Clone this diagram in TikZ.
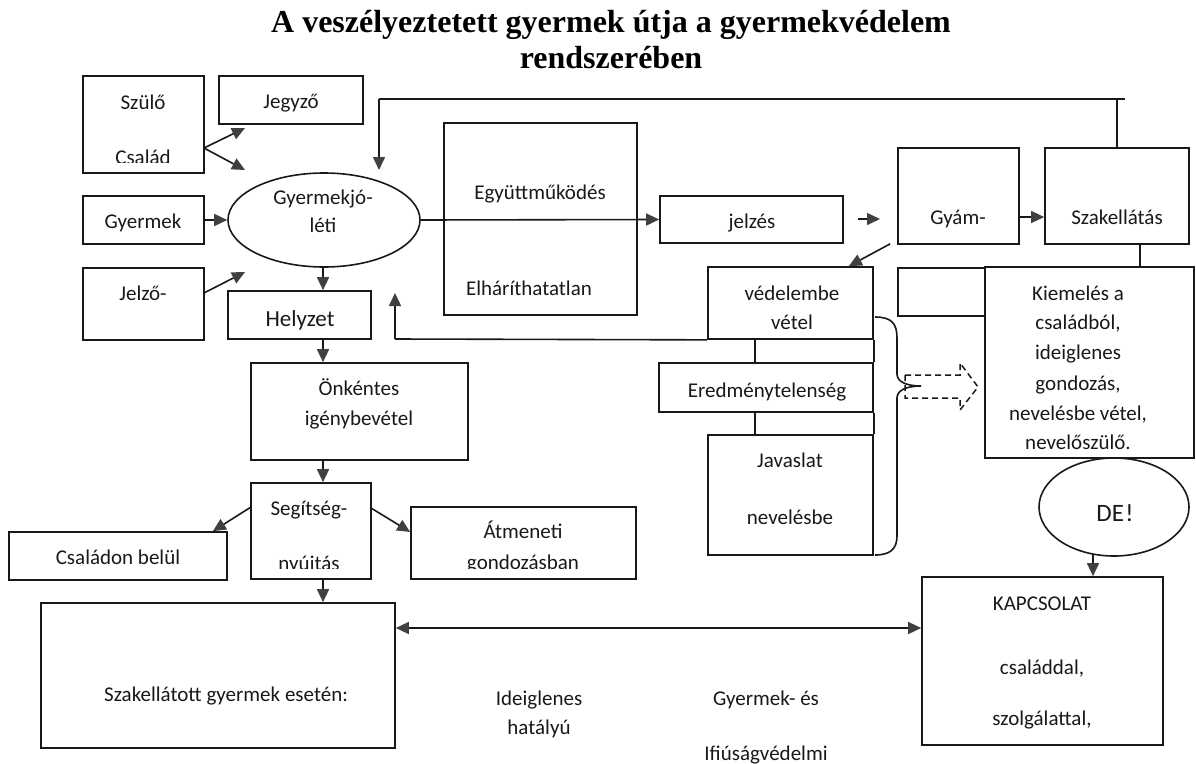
\documentclass[tikz,border=0pt]{standalone}
\usepackage{fontspec}
\setmainfont{Carlito}
\newfontfamily\titlefont{Liberation Serif}
\usetikzlibrary{arrows.meta,shapes.geometric,calc}
\begin{document}
\begin{tikzpicture}[x=1pt,y=-1pt,
  bx/.style={draw=black!90, line width=1.7pt, inner sep=0pt},
  ov/.style={draw=black!90, line width=1.6pt, ellipse, inner sep=0pt},
  tx/.style={font=\fontsize{21}{25}\selectfont, text=black!90, anchor=base, inner sep=0pt},
  ttl/.style={font=\titlefont\bfseries\fontsize{32}{36}\selectfont, anchor=base, inner sep=0pt},
  ar/.style={draw=black!90, line width=1.6pt, -{Triangle[length=13pt,width=12pt,fill=black!75,color=black!75]}},
  dar/.style={draw=black!90, line width=1.6pt, {Triangle[length=13pt,width=12pt,fill=black!75,color=black!75]}-{Triangle[length=13pt,width=12pt,fill=black!75,color=black!75]}},
  ln/.style={draw=black!90, line width=1.6pt},
]
\useasboundingbox (0,0) rectangle (1196,763);
\fill[white] (0,0) rectangle (1196,763);

% title
\node[ttl] (t1) at (611,32) {A veszélyeztetett gyermek útja a gyermekvédelem};
\node[ttl] (t2) at (611,68) {rendszerében};

% boxes
\node[bx, minimum width=121pt, minimum height=97pt] (szulo) at (143.5,124.5) {};
\node[bx, minimum width=144pt, minimum height=48pt] (jegyzo) at (291,100) {};
\node[bx, minimum width=121pt, minimum height=48pt] (gyermek) at (143.5,220) {};
\node[bx, minimum width=121pt, minimum height=72pt] (jelzo) at (143.5,304) {};
\node[ov, minimum width=192pt, minimum height=94pt] (ell) at (324,220) {};
\node[bx, minimum width=143pt, minimum height=48pt] (helyzet) at (299.5,315) {};
\node[bx, minimum width=193pt, minimum height=192pt] (egyutt) at (540.5,219) {};
\node[bx, minimum width=183pt, minimum height=47pt] (jelzes) at (751.5,219.5) {};
\node[bx, minimum width=121pt, minimum height=96pt] (gyam) at (958.5,196) {};
\node[bx, minimum width=144pt, minimum height=96pt] (szak) at (1117,196) {};
\node[bx, minimum width=165pt, minimum height=72pt] (vedelem) at (790.5,303) {};
\node[bx, minimum width=87pt, minimum height=48pt] (blank) at (941.5,292) {};
\node[bx, minimum width=209pt, minimum height=191pt] (kiemel) at (1089.5,362.5) {};
\node[bx, minimum width=214pt, minimum height=49pt] (eredm) at (766,387.5) {};
\node[bx, minimum width=165pt, minimum height=120pt] (javaslat) at (790.5,495) {};
\node[ov, minimum width=150pt, minimum height=98pt] (de) at (1114,507) {};
\node[bx, minimum width=217pt, minimum height=97pt] (onkent) at (359.5,411.5) {};
\node[bx, minimum width=120pt, minimum height=96pt] (segit) at (311,531) {};
\node[bx, minimum width=218pt, minimum height=48pt] (csalad) at (118,556) {};
\node[bx, minimum width=225pt, minimum height=72pt] (atmen) at (523.5,543) {};
\node[bx, minimum width=354pt, minimum height=145pt] (szakgy) at (218,675.5) {};
\node[bx, minimum width=241pt, minimum height=168pt] (kapcs) at (1042.5,661) {};

% texts
\node[tx] (tszulo) at (143,109) {Szülő};
\begin{scope}
\clip (84,77) rectangle (203,162);
\node[tx] (tcsalad) at (143,164) {Család};
\end{scope}
\node[tx] (tjegyzo) at (291,108) {Jegyző};
\node[tx] (tgyermek) at (143,228) {Gyermek};
\node[tx] (tgy1) at (323,204) {Gyermekjó-};
\node[tx] (tgy2) at (323,232) {léti};
\node[tx] (tjelzo) at (143,300) {Jelző-};
\node[tx, font=\fontsize{23}{27}\selectfont] (thely) at (300,326) {Helyzet};
\node[tx] (tegy) at (540,199) {Együttműködés};
\node[tx] (telh) at (529,295) {Elháríthatatlan};
\node[tx] (tjelzes) at (752,228) {jelzés};
\node[tx] (tgyam) at (958,224) {Gyám-};
\node[tx] (tszak) at (1117,224) {Szakellátás};
\node[tx] (tved1) at (792,300) {védelembe};
\node[tx] (tved2) at (792,329) {vétel};
\node[tx] (tk1) at (1078,300) {Kiemelés a};
\node[tx] (tk2) at (1078,329) {családból,};
\node[tx] (tk3) at (1078,359) {ideiglenes};
\node[tx] (tk4) at (1078,390) {gondozás,};
\node[tx] (tk5) at (1078,420) {nevelésbe vétel,};
\node[tx] (tk6) at (1078,449) {nevelőszülő.};
\node[tx] (tered) at (767,397) {Eredménytelenség};
\node[tx] (tjav1) at (790,467) {Javaslat};
\node[tx] (tjav2) at (790,524) {nevelésbe};
\node[tx, font=\fontsize{25}{29}\selectfont] (tde) at (1115,521) {DE\kern1.5pt!};
\node[tx] (tonk1) at (359,395) {Önkéntes};
\node[tx] (tonk2) at (359,425) {igénybevétel};
\node[tx] (tseg1) at (309,515) {Segítség-};
\begin{scope}
\clip (252,484) rectangle (370,568);
\node[tx] (tseg2) at (309,570) {nyújtás};
\end{scope}
\node[tx] (tcsb) at (118,564) {Családon belül};
\node[tx] (tatm1) at (523,538) {Átmeneti};
\begin{scope}
\clip (412,508) rectangle (635,568);
\node[tx] (tatm2) at (523,569) {gondozásban};
\end{scope}
\node[tx] (tszakgy) at (226,701) {Szakellátott gyermek esetén:};
\node[tx] (tide1) at (539,705) {Ideiglenes};
\node[tx] (tide2) at (539,734) {hatályú};
\node[tx] (tgyes1) at (766,705) {Gyermek- és};
\node[tx] (tgyes2) at (766,760) {Ifiúságvédelmi};
\node[tx] (tkap1) at (1042,610) {KAPCSOLAT};
\node[tx] (tkap2) at (1042,674) {családdal,};
\node[tx] (tkap3) at (1042,725) {szolgálattal,};

% coordinates for free ends
\coordinate (szA) at (204,148);
\coordinate (tipJ) at (245,128);
\coordinate (tipE1) at (245,170);
\coordinate (jzA) at (204,293);
\coordinate (tipE2) at (245,272);
\coordinate (fbTop) at (1117,99);
\coordinate (fbEnd) at (1125,99);
\coordinate (fbL) at (379,99);
\coordinate (fbTip) at (379,170);
\coordinate (shA) at (858,219);
\coordinate (shB) at (880,219);
\coordinate (retL) at (395,339);
\coordinate (retTip) at (395,293);

% connectors, left part
\draw[ar] (szA) -- (tipJ);
\draw[ar] (szA) -- (tipE1);
\draw[ar] (gyermek.east) -- (ell.west);
\draw[ar] (jzA) -- (tipE2);
\draw[ar] (ell.south -| 323,0) -- (323,0 |- helyzet.north);
\draw[ar] (323,0 |- helyzet.south) -- (323,0 |- onkent.north);
\draw[ar] (323,0 |- onkent.south) -- (323,0 |- segit.north);
\draw[ar] ($(segit.north west)!0.26!(segit.south west)$) -- ($(csalad.north east)+(-15,0)$);
\draw[ar] ($(segit.north east)!0.27!(segit.south east)$) -- ($(atmen.north west)!0.35!(atmen.south west)$);
\draw[ar] (323,0 |- segit.south) -- (323,0 |- szakgy.north);
\draw[dar] (szakgy.east |- 0,628) -- (kapcs.west |- 0,628);

% middle part
\draw[ar] (ell.east) -- (jelzes.west);
\draw[ar] (shA) -- (shB);
\draw[ar] (gyam.east |- 0,217) -- (szak.west |- 0,217);
\draw[ln] (szak.north) -- (fbTop) -- (fbEnd);
\draw[ln] (fbTop) -- (fbL);
\draw[ar] (fbL) -- (fbTip);
\draw[ar] ($(gyam.south west)+(-7,-1)$) -- ($(vedelem.north east)+(-25,0)$);
\draw[ln] (szak.south -| 1140,0) -- (1140,0 |- kiemel.north);
\draw[ln] (vedelem.south west) -- (retL);
\draw[ar] (retL) -- (retTip);
\draw[ln] (755,0 |- vedelem.south) -- (755,0 |- eredm.north);
\draw[ln] (755,0 |- eredm.south) -- (755,0 |- javaslat.north);
\draw[ln] (vedelem.south east) -- (eredm.north east);
\draw[ln] (eredm.south east) -- (javaslat.north east);
\draw[ar] (1093,0 |- de.south) ++(0,-2) -- (1093,0 |- kapcs.north);

% brace and dashed block arrow
\draw[line width=1.5pt, draw=black!90, dash pattern=on 6pt off 4pt] (905,375) -- (960,375) -- (960,363) -- (978,387) -- (960,410) -- (960,398) -- (905,398) -- cycle;
\draw[line width=1.6pt, draw=black!90] (875,317) .. controls (892,317) and (897,324) .. (897,338) -- (897,374) .. controls (897,381) and (905,386) .. (921,386) .. controls (905,386) and (897,391) .. (897,398) -- (897,536) .. controls (897,549) and (890,555) .. (875,555);
\end{tikzpicture}
\end{document}
